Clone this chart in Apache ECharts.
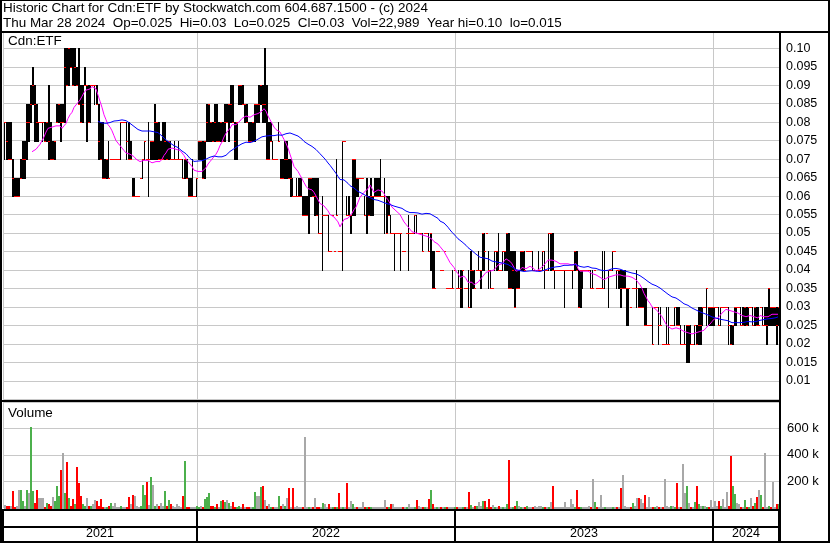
<!DOCTYPE html>
<html><head><meta charset="utf-8">
<script src="https://cdn.jsdelivr.net/npm/echarts/dist/echarts.min.js"></script>
<style>html,body{margin:0;padding:0;background:#fff}#c{width:830px;height:543px}</style>
</head><body><div id="c"></div>
<script>
// Prices in cents (one bar ≈ two trading days), Apr 2021 – Mar 28 2024
const highs = [8,8,8,8,7,6.5,6.5,6.5,7,7.5,7.5,8.5,8.5,9,9.5,9,8.5,8,8,8,
8,8,9,8,7.5,7.5,8.5,8.5,8.5,8.5,10,10,10,10,10,10,9.5,10,9,9,
9.5,9,9,9,9,9,9,8.5,8,8,7,7,7.5,7,7,7,7,7,8,8,
8,8,8,7.5,6.5,6.5,6,6,6.5,7,7.5,7,8,7.5,7.5,8.5,8,8,7.5,8,
8,7.5,7.5,7.5,7,7.5,7,7.5,7,7,7,7,6.5,6.5,7,6,6.5,7.5,7.5,7.5,
7.5,8.5,8.5,8,8,8.5,8.5,8,8,8,8.5,8.5,8.5,9,9,8,8,9,9,9,
8.5,8.5,8,8,8,8.5,8.5,9,9,9,10,9,8,8,7.5,7,7,8,7,7,
7.5,7.5,7,7,6.5,6,6.5,6.5,6.5,6,6,6,6.5,6.5,6.5,6.5,6.5,6.5,5,6,
5.5,5.5,5.5,4.5,5.5,4.5,7,4.5,4.5,7.5,7.5,6,6,5.5,7,7,6.5,6.5,6.5,6.5,
6,6.5,6,6.5,6,6.5,6.5,6.5,7,6,6.5,6,6,5.5,5,5,5,5,5,4.5,
4.5,5,5.5,5,5,5.5,5.5,5,5,5,5,5,5,5,4.5,4.5,4.5,4.5,4,4,
4.5,3.5,3.5,3.5,4,4,3.5,4,4,4,3.5,3.5,4,4.5,4,4,4,4.5,4,5,
5,5,4.5,4,3.5,4.5,4.5,5,4,4.5,4.5,5,5,4.5,4.5,4.5,4,4,4.5,4.5,
4.5,4.5,4.5,4.5,4.5,4,4,4.5,4,4.5,4.5,4,5,5,5,4,4,4,4,4,
4,4,4,4,4,4.5,4.5,4,4,4,4,4,4,4,4,4,3.5,3.5,3.5,4.5,
4.5,4,4,4,4.5,4.5,4,4,4,4,4,3.5,3.5,3,3.5,3.5,4,3.5,3.5,3.5,
3.5,3.5,2.5,2.5,3,3,3,3,3,2,2,3,3,2.5,2.5,3,3,3,2.5,2,
2.5,2.5,2.5,2.5,2,2.5,2.5,3,3,3,3,3.5,3,3,3,3,3,3,3,3,
3,3,3,2.5,2.5,3,3,3,3,3,3,3,3,3,3,3,3,3,3,3,
3,3,3.5,3,3,3,3,3];
const lows = [7,7,7,7,6,6,6,6,6.5,6.5,6.5,7,7.5,8,8.5,7.5,7.5,7.5,8,7.5,
7.5,7.5,7,7,7,7,8,8,7.5,8,8,9,9,9.5,9,9,9,8.5,8,8,
9,7.5,8,8,9,8.5,8.5,7,7,6.5,6.5,6.5,6.5,7,7,7,7,7,7,8,
8,7,7,7,6,6,6,6,6.5,6.5,7,7,6,7,7,7,7,7,7,7,
7,7,7,7,7,7,7,7,7,6.5,6.5,6.5,6,6,6,6,6,7,7,6.5,
6.5,7.5,7.5,7.5,7.5,7.5,7.5,7.5,7.5,7.5,7.5,8,7.5,8,8,7,7,8.5,8.5,8.5,
8,8,7.5,7.5,7.5,7.5,8,8,8.5,8,8,7,7,7.5,7,7,7,7.5,6.5,6.5,
6.5,6.5,6.5,6,6,6,6,6,6,5.5,5.5,5.5,5,6,6,5.5,5.5,5,5,4,
5.5,5.5,4.5,4.5,5.5,4.5,5.5,4.5,4.5,4,7.5,5.5,5.5,5,5.5,5.5,6,6,6.5,6.5,
5.5,5,5.5,5.5,5.5,6,6,6,6,6,5,5,5.5,5,5,4,5,5,4,4.5,
4.5,5,4,5,5,5,5,5,5,4.5,5,5,4.5,4,3.5,3.5,4.5,4.5,4,4,
4.5,3.5,3.5,3.5,3.5,4,3.5,3.5,3,3,3.5,3.5,3,3,3.5,3.5,4,4,3.5,4,
4,5,3.5,3.5,3.5,4,4,4,4,4,4,4,3.5,3.5,3.5,3,3.5,3.5,4,4,
4,4.5,4.5,4.5,4,4,4,4,4,4,3.5,4,4,4,4,3.5,4,4,4,4,
3,4,4,4,3.5,4,4,3,3,3.5,4,4,4,3.5,3.5,4,3.5,3.5,3.5,3.5,
3.5,4,3,4,4,4.5,3.5,3.5,3,3.5,3.5,2.5,2.5,3,3.5,3.5,3,3,3,3,
2.5,2.5,2.5,2.5,2,3,3,2,2.5,2,2,2,2,2.5,2.5,2.5,2.5,2.5,2,2,
2,1.5,1.5,2,2,2,2,2,2,2.5,3,2.5,2.5,2.5,2.5,2.5,3,2.5,2.5,3,
3,3,2,2,2,2.5,2.5,3,2.5,2.5,2.5,2.5,2.5,3,2.5,2.5,2.5,2.5,3,2.5,
2.5,2,2.5,2.5,2.5,2.5,2,2.5];
const closes = [8,7.5,7,7,6.5,6,6,6,6.5,7,7,8,8,8.5,9,8.5,8,8,8,8,
7.5,8,7.5,7,7,7.5,8,8.5,8,8,9.5,9,10,9.5,9,9.5,9,8.5,8,8.5,
9,9,8,9,9,9,8.5,7.5,7,6.5,6.5,7,6.5,7,7,7,7,7,8,8,
8,7.5,7,7,6,6,6,6,6.5,7,7.5,7,7,7.5,7.5,8,8,7,7,7,
7.5,7,7.5,7,7,7,7,7,7,6.5,7,6.5,6,6,6,6,6.5,7.5,7.5,6.5,
7.5,8,8.5,8,7.5,8,7.5,7.5,8,7.5,8,8,8.5,8.5,8,7.5,8,9,9,8.5,
8.5,8,7.5,7.5,8,8.5,8.5,8.5,9,8.5,8.5,7,7,7.5,7,7,7,7.5,6.5,6.5,
7,7,6.5,6.5,6,6,6,6,6,5.5,5.5,5.5,6.5,6.5,6,6,5.5,5,5,5.5,
5.5,5.5,4.5,4.5,5.5,4.5,5.5,4.5,4.5,7.5,7.5,5.5,5.5,5.5,7,7,6.5,6.5,6.5,6.5,
5.5,6,5.5,6,6,6,6,6,6,6,6,5,5.5,5,5,5,5,5,5,4.5,
4.5,5,5,5,5,5.5,5,5,5,4.5,5,5,4.5,5,3.5,3.5,4.5,4.5,4,4,
4.5,3.5,3.5,3.5,3.5,4,3.5,3.5,3.5,4,3.5,3.5,3,4,4,3.5,4,4,4,5,
4.5,5,4,3.5,3.5,4.5,4.5,4,4,4.5,4.5,5,3.5,3.5,4,3,3.5,3.5,4.5,4.5,
4,4.5,4.5,4.5,4,4,4,4,4,4.5,4,4,5,5,4,4,4,4,4,4,
4,4,4,4,4,4.5,4,3,4,4,4,4,4,3.5,3.5,4,3.5,3.5,3.5,3.5,
4,4,4,4,4.5,4.5,4,4,3.5,3.5,3.5,3.5,3.5,3,3.5,3.5,3.5,3,3,3,
2.5,2.5,2.5,2.5,2,3,3,2.5,2.5,2,2,2,2,2.5,2.5,3,2.5,2.5,2,2,
2,2.5,2.5,2,2,2.5,2,2.5,2.5,3,3,3.5,3,3,3,3,3,2.5,3,3,
3,3,2.5,2,2.5,3,3,3,2.5,2.5,3,2.5,3,3,2.5,3,2.5,2.5,3,2.5,
2.5,2.5,3.5,3,3,3,2.5,3];
// Volume in thousands of shares
const volumesK = [18,12,15,8,125,6,10,130,130,48,10,130,113,612,125,36,130,74,74,69,
6,36,23,8,79,48,164,87,287,415,113,343,74,10,61,23,310,187,87,23,
10,69,10,10,23,54,48,12,61,6,6,6,8,36,10,36,4,5,8,5,
5,5,79,30,96,87,15,5,8,169,92,195,20,233,172,15,23,10,36,8,
125,8,54,23,10,6,23,10,6,87,356,6,6,6,6,4,10,6,10,6,
61,79,113,10,10,6,23,6,48,54,41,54,36,10,41,6,6,10,5,23,
6,6,6,5,6,118,87,87,156,164,54,10,23,6,5,6,4,90,10,23,
8,74,146,6,146,6,10,4,6,5,536,6,6,5,6,69,6,5,6,36,
23,6,23,5,6,6,5,107,6,6,6,187,5,48,23,6,6,5,5,41,
5,5,5,5,6,5,6,5,6,5,54,5,5,23,23,5,6,5,5,5,
5,6,23,5,5,5,54,10,5,6,5,5,61,130,23,5,4,4,4,4,
4,4,4,3,3,5,3,6,6,6,5,5,118,18,6,15,15,41,10,48,
48,6,61,5,18,6,5,15,6,6,6,23,361,6,5,10,48,10,5,6,
5,15,5,5,5,10,5,15,10,6,5,5,5,41,164,5,5,5,6,5,
41,6,5,61,23,6,130,6,6,5,4,5,10,5,215,41,4,5,94,4,
4,4,4,4,5,4,6,5,146,249,10,4,6,6,36,10,69,69,66,36,
92,4,79,6,4,5,10,5,5,4,215,10,5,10,15,6,187,6,5,333,
113,164,36,6,6,41,164,23,10,10,15,4,4,54,4,48,10,48,10,61,
5,118,10,395,164,100,36,23,4,6,54,6,5,74,15,36,79,130,92,6,
415,6,10,5,195,4,23,23];
const yearNames = ['2021', '2022', '2023', '2024'];
const yearFirstBar = [0, 97, 226, 355];
const maShortPeriod = 15;
const maLongPeriod = 48;
const headerLine1 = 'Historic Chart for Cdn:ETF by Stockwatch.com 604.687.1500 - (c) 2024';
const headerLine2 = 'Thu Mar 28 2024  Op=0.025  Hi=0.03  Lo=0.025  Cl=0.03  Vol=22,989  Year hi=0.10  lo=0.015';

const N = Math.min(highs.length, lows.length, closes.length, volumesK.length);
const GREEN = '#4cb04c', RED = '#ff0000', GRAY = '#a8a8a8', GRID = '#c8c8c8';
const FONT = 'Liberation Sans';

function movingAverage(vals, p) {
  return vals.slice(0, N).map((_, i) => {
    if (i < p - 1) return '-';
    let s = 0;
    for (let k = i - p + 1; k <= i; k++) s += vals[k];
    return +(s / p).toFixed(4);
  });
}
const barYear = [];
for (let i = 0; i < N; i++) {
  let y = 0;
  for (let k = 0; k < yearFirstBar.length; k++) if (i >= yearFirstBar[k]) y = k;
  barYear.push(yearNames[y]);
}
const yearMid = yearFirstBar.map((s, k) => Math.floor((s + (k + 1 < yearFirstBar.length ? yearFirstBar[k + 1] : N)) / 2));
const isYearStart = (idx) => yearFirstBar.indexOf(idx) >= 0;
const isYearMid = (idx) => yearMid.indexOf(idx) >= 0;

const ohlcData = [];
const volData = [];
const volColors = [];
for (let i = 0; i < N; i++) {
  ohlcData.push([i, highs[i], lows[i], closes[i]]);
  volData.push([i, volumesK[i]]);
  volColors.push(i === 0 ? GRAY : closes[i] > closes[i - 1] ? GREEN : closes[i] < closes[i - 1] ? RED : GRAY);
}
const hasRange = (i) => i >= 0 && i < N && highs[i] > lows[i];

function renderBar(params, api) {
  const i = params.dataIndex;
  const t = api.coord([i, api.value(1)]);
  const b = api.coord([i, api.value(2)]);
  const c = api.coord([i, api.value(3)]);
  const x = Math.round(t[0]);
  const y1 = Math.round(t[1]), y2 = Math.round(b[1]), yc = Math.round(c[1]);
  // inside a run of actively traded bars the two daily strokes merge into a solid 2px block
  const solid = hasRange(i - 1) && hasRange(i) && hasRange(i + 1);
  return { type: 'group', children: [
    { type: 'rect', shape: { x: x, y: y1, width: solid ? 2 : 1, height: Math.max(1, y2 - y1 + 1) }, style: { fill: '#000' } },
    { type: 'rect', shape: { x: x, y: yc, width: 2, height: 1 }, style: { fill: RED } }
  ]};
}
function renderVol(params, api) {
  const i = api.value(0);
  const p = api.coord([i, api.value(1)]);
  const b = api.coord([i, 0]);
  const x = Math.round(p[0]);
  const y = Math.round(p[1]);
  return { type: 'rect', shape: { x: x, y: y, width: 2, height: Math.max(1, Math.round(b[1]) - y + 1) },
           style: { fill: volColors[params.dataIndex] } };
}
function priceLabel(v) {
  const d = Math.round(v * 10) / 1000;
  if (d < 0.0099 || d > 0.1001) return '';
  return d === 0.1 ? '0.10' : String(d);
}

function catAxis(g, extra) {
  return Object.assign({
    type: 'category', gridIndex: g, data: barYear.slice(0, N), boundaryGap: true,
    axisLine: { show: false }, axisTick: { show: false }, axisLabel: { show: false },
    splitLine: { show: true, interval: (idx) => isYearStart(idx), lineStyle: { color: GRID, width: 1 } }
  }, extra || {});
}

const blk = (x, y, w, h) => ({ type: 'rect', z: 100, shape: { x, y, width: w, height: h }, style: { fill: '#000' } });
const txt = (x, y, s, size) => ({ type: 'text', z: 101, x, y,
  style: { text: s, fill: '#000', fontSize: size, fontFamily: FONT, verticalAlign: 'middle' } });

const chart = echarts.init(document.getElementById('c'), null, { renderer: 'canvas' });
chart.setOption({
  animation: false,
  backgroundColor: '#fff',
  textStyle: { fontFamily: FONT },
  grid: [
    { left: 3, top: 29.83, width: 776, height: 369.4 },
    { left: 3, top: 402.3, width: 776, height: 105.2 },
    { left: 3, top: 511, width: 776, height: 30 }
  ],
  xAxis: [
    catAxis(0),
    catAxis(1),
    catAxis(2, {
      splitLine: { show: true, interval: (idx) => isYearStart(idx), lineStyle: { color: '#000', width: 2 } },
      axisLabel: { show: true, inside: true, interval: (idx) => isYearMid(idx), margin: 7, verticalAlign: 'middle',
                   color: '#000', fontSize: 12.5, fontFamily: FONT }
    })
  ],
  yAxis: [
    { type: 'value', gridIndex: 0, position: 'right', min: 0.5, max: 10.5, interval: 0.5,
      axisLine: { show: false }, axisTick: { show: false },
      splitLine: { show: true, lineStyle: { color: GRID, width: 1 } },
      axisLabel: { margin: 7, color: '#000', fontSize: 12.5, fontFamily: FONT, formatter: priceLabel } },
    { type: 'value', gridIndex: 1, position: 'right', min: 0, max: 800, interval: 200,
      axisLine: { show: false }, axisTick: { show: false },
      splitLine: { show: true, lineStyle: { color: GRID, width: 1 } },
      axisLabel: { margin: 8, color: '#000', fontSize: 13, fontFamily: FONT,
                   formatter: (v) => (v > 0 && v < 800) ? v + ' k' : '' } },
    { type: 'value', gridIndex: 2, min: 0, max: 1, show: false }
  ],
  series: [
    { type: 'custom', name: 'OHLC', xAxisIndex: 0, yAxisIndex: 0, data: ohlcData, renderItem: renderBar,
      encode: { x: 0, y: [1, 2, 3] }, z: 2, silent: true },
    { type: 'line', name: 'MA short', xAxisIndex: 0, yAxisIndex: 0, data: movingAverage(closes, maShortPeriod),
      showSymbol: false, symbol: 'none', lineStyle: { color: '#ff00ff', width: 1 }, z: 3, silent: true },
    { type: 'line', name: 'MA long', xAxisIndex: 0, yAxisIndex: 0, data: movingAverage(closes, maLongPeriod),
      showSymbol: false, symbol: 'none', lineStyle: { color: '#0000ff', width: 1 }, z: 4, silent: true },
    { type: 'custom', name: 'Volume', xAxisIndex: 1, yAxisIndex: 1, data: volData, renderItem: renderVol,
      encode: { x: 0, y: 1 }, z: 2, silent: true }
  ],
  graphic: [
    { type: 'rect', z: 99, shape: { x: 0, y: 0, width: 830, height: 31 }, style: { fill: '#fff' } },
    blk(0, 0, 830, 1), blk(0, 0, 2, 543), blk(828, 0, 2, 543), blk(0, 541, 830, 2),
    blk(0, 31, 830, 2), blk(0, 400, 781, 2), blk(0, 509, 781, 2), blk(0, 526, 781, 2), blk(779, 31, 2, 512),
    txt(3, 8.5, headerLine1, 13.45),
    txt(3, 23, headerLine2, 13.45),
    txt(8, 41, 'Cdn:ETF', 13.45),
    txt(8, 413, 'Volume', 13.45)
  ]
});
</script>
</body></html>
